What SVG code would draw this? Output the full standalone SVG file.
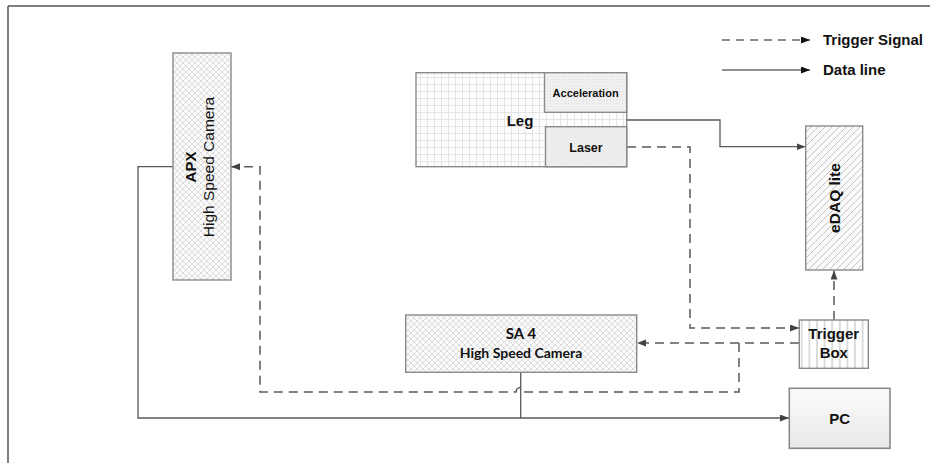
<svg xmlns="http://www.w3.org/2000/svg" width="930" height="465" viewBox="0 0 930 465">
<style>
.box{stroke:#8a8a8a;stroke-width:1.4}
.t{font-family:"Liberation Sans",Arial,sans-serif;font-weight:bold;fill:#111;text-anchor:middle}
.r{font-family:"Liberation Sans",Arial,sans-serif;fill:#111;text-anchor:middle}
.c{font-family:Lato,"Liberation Sans",sans-serif;font-weight:bold;fill:#111;text-anchor:middle;font-size:14px}
.solid{fill:none;stroke:#5a5a5a;stroke-width:1.3}
.dash{fill:none;stroke:#5a5a5a;stroke-width:1.5;stroke-dasharray:9 6}
</style>
<defs>
<pattern id="cross" width="6" height="6" patternUnits="userSpaceOnUse">
<rect width="6" height="6" fill="#fbfbfb"/>
<path d="M0 0L6 6M6 0L0 6" stroke="#cfcfcf" stroke-width="0.7"/>
</pattern>
<pattern id="grid" width="7" height="7" patternUnits="userSpaceOnUse">
<rect width="7" height="7" fill="#fdfdfd"/>
<path d="M0 0.5H7M0.5 0V7" stroke="#dedede" stroke-width="0.8"/>
</pattern>
<pattern id="diag" width="7" height="7" patternUnits="userSpaceOnUse">
<rect width="7" height="7" fill="#fafafa"/>
<path d="M-1 8L8 -1M-1 1L1 -1M6 8L8 6" stroke="#b5b5b5" stroke-width="0.8"/>
</pattern>
<pattern id="fine" width="3" height="3" patternUnits="userSpaceOnUse">
<rect width="3" height="3" fill="#f1f1f1"/>
<path d="M0 0L3 3" stroke="#dcdcdc" stroke-width="0.6"/>
</pattern>
<pattern id="dots" width="3" height="3" patternUnits="userSpaceOnUse">
<rect width="3" height="3" fill="#f0f0f0"/>
<rect x="1" y="1" width="1" height="1" fill="#e0e0e0"/>
</pattern>
<pattern id="vert" width="7.6" height="10" patternUnits="userSpaceOnUse">
<rect width="7.6" height="10" fill="#ffffff"/>
<path d="M3.8 0V10" stroke="#9a9a9a" stroke-width="0.7"/>
</pattern>
<linearGradient id="pcg" x1="0" y1="0" x2="0" y2="1">
<stop offset="0" stop-color="#fbfbfb"/>
<stop offset="1" stop-color="#e9e9e9"/>
</linearGradient>
<marker id="ah" markerUnits="userSpaceOnUse" markerWidth="10" markerHeight="8" refX="9" refY="3.5" orient="auto">
<path d="M0 0L9 3.5L0 7z" fill="#444"/>
</marker>
<marker id="ahk" markerUnits="userSpaceOnUse" markerWidth="10" markerHeight="8" refX="9" refY="3.5" orient="auto">
<path d="M0 0L9 3.5L0 7z" fill="#111"/>
</marker>
</defs>
<rect width="930" height="465" fill="#ffffff"/>
<path d="M8 6H930M8 6V463" fill="none" stroke="#555" stroke-width="1.5"/>

<g id="legend">
<path d="M722 40H810" fill="none" stroke="#666" stroke-width="1.3" stroke-dasharray="8 6" marker-end="url(#ahk)"/>
<path d="M722 70H810" fill="none" stroke="#222" stroke-width="1.1" marker-end="url(#ahk)"/>
<text x="823" y="45" class="t" style="text-anchor:start;font-size:15px">Trigger Signal</text>
<text x="823" y="74.5" class="t" style="text-anchor:start;font-size:15px">Data line</text>
</g>

<g id="connectors">
<path class="solid" d="M173 166.7H138V418H789" marker-end="url(#ah)"/>
<path class="solid" d="M520.7 372.3V418"/>
<path class="solid" d="M627 120H720V146.7H805.5" marker-end="url(#ah)"/>
<path class="dash" d="M627 147H690V328H799" marker-end="url(#ah)"/>
<path class="dash" d="M799 343H637" marker-end="url(#ah)"/>
<path class="dash" d="M739 343V392H525A4.5 4.5 0 0 0 516 392H260V166.7H231" marker-end="url(#ah)"/>
<path class="dash" d="M834 320V270.5" marker-end="url(#ah)"/>
</g>

<g id="apx">
<rect class="box" x="173" y="53" width="58" height="227" fill="url(#cross)"/>
<text class="t" transform="translate(196,167) rotate(-90)" style="font-size:15px">APX</text>
<text class="r" transform="translate(214,167) rotate(-90)" style="font-size:15.5px">High Speed Camera</text>
</g>

<g id="leg">
<rect class="box" x="416" y="72.7" width="210.7" height="94" fill="url(#grid)"/>
<text class="t" x="520" y="125.5" style="font-size:15px">Leg</text>
</g>

<g id="acceleration">
<rect class="box" x="544.5" y="72.7" width="82.2" height="39.6" fill="url(#dots)"/>
<text class="t" x="585.6" y="96.5" style="font-size:11px">Acceleration</text>
</g>

<g id="laser">
<rect class="box" x="545.5" y="126.7" width="81.2" height="40" fill="url(#fine)"/>
<text class="t" x="586" y="151.5" style="font-size:12.5px">Laser</text>
</g>

<g id="edaq">
<rect class="box" x="805.7" y="126" width="57" height="144" fill="url(#diag)"/>
<text class="t" transform="translate(839.5,198) rotate(-90)" style="font-size:15.5px">eDAQ lite</text>
</g>

<g id="sa4">
<rect class="box" x="405.7" y="315" width="231" height="57.3" fill="url(#cross)"/>
<text class="c" x="521" y="338.5" style="font-size:15px">SA 4</text>
<text class="c" x="521" y="358">High Speed Camera</text>
</g>

<g id="triggerbox">
<rect class="box" x="799.3" y="320" width="69" height="48.3" fill="url(#vert)"/>
<text class="t" x="833.8" y="338.5" style="font-size:15px">Trigger</text>
<text class="t" x="833.8" y="357.5" style="font-size:15px">Box</text>
</g>

<g id="pc">
<rect x="789.3" y="388.3" width="100.7" height="60" fill="url(#pcg)" stroke="#8a8a8a" stroke-width="1.6"/>
<text class="t" x="839.6" y="423.5" style="font-size:15px">PC</text>
</g>
</svg>
